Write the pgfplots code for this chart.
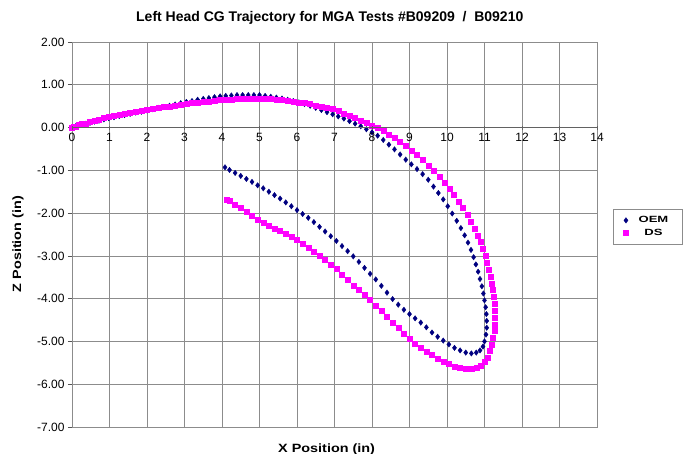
\documentclass[border=0pt]{standalone}
\usepackage{fontspec}
\setmainfont{Liberation Sans}
\usepackage{pgfplots}
\pgfplotsset{compat=1.18}
\definecolor{oem}{RGB}{0,0,128}
\definecolor{ds}{RGB}{255,0,255}
\definecolor{gridc}{RGB}{140,140,140}
\begin{document}
\begin{tikzpicture}[x=1pt,y=1pt]
\useasboundingbox (0,0) rectangle (683,454);
\begin{axis}[at={(72pt,27pt)}, anchor=south west,
  width=525pt, height=385pt, scale only axis,
  xmin=0, xmax=14, ymin=-7, ymax=2,
  xtick={0,...,14}, ytick={-7,...,2},
  grid=major, major grid style={gridc, line width=0.6pt},
  axis line style={gridc, line width=0.9pt},
  xmajorticks=false, xticklabels={},
  ytick pos=left, tick align=outside, major tick length=4pt,
  ytick style={gridc!60!black, line width=0.6pt},
  yticklabel style={font=\fontsize{12}{14}\selectfont, /pgf/number format/.cd, fixed, fixed zerofill, precision=2, assume math mode=true},
  title={Left Head CG Trajectory for MGA Tests \#B09209~~/~~B09210},
  title style={at={(axis description cs:0.491,1.047)}, anchor=center, font=\bfseries\fontsize{14}{16}\selectfont},
  xlabel={\scalebox{1.2}[1]{X Position (in)}},
  xlabel style={at={(axis description cs:0.485,-0.057)}, anchor=center, font=\bfseries\fontsize{12}{14}\selectfont},
  ylabel={\scalebox{1.2}[1]{Z Position (in)}},
  ylabel style={at={(axis description cs:-0.103,0.475)}, anchor=center, font=\bfseries\fontsize{12}{14}\selectfont},
  legend style={at={(axis description cs:1.031,0.5655)}, anchor=north west, draw=gridc, font=\bfseries\fontsize{9}{11}\selectfont, row sep=1pt, inner xsep=10pt, inner ysep=5pt},
  legend cell align=left,
]
\addplot[only marks, mark=diamond*, mark size=2.7pt, color=oem] coordinates {
(0.00,0.00)(0.05,0.01)(0.10,0.03)(0.18,0.05)(0.27,0.07)(0.37,0.09)(0.48,0.11)(0.60,0.14)(0.72,0.16)(0.85,0.19)
(0.98,0.22)(1.12,0.24)(1.26,0.27)(1.40,0.29)(1.55,0.32)(1.70,0.35)(1.85,0.37)(2.00,0.40)(2.15,0.43)(2.30,0.46)
(2.45,0.48)(2.60,0.51)(2.75,0.54)(2.90,0.57)(3.05,0.60)(3.20,0.62)(3.35,0.65)(3.50,0.67)(3.65,0.69)(3.80,0.71)
(3.95,0.73)(4.10,0.74)(4.25,0.75)(4.40,0.76)(4.55,0.76)(4.70,0.76)(4.85,0.76)(5.00,0.76)(5.15,0.74)(5.30,0.72)
(5.45,0.70)(5.60,0.68)(5.75,0.65)(5.90,0.62)(6.05,0.59)(6.20,0.55)(6.35,0.51)(6.50,0.46)(6.65,0.41)(6.80,0.36)
(6.95,0.31)(7.10,0.26)(7.25,0.21)(7.40,0.15)(7.55,0.09)(7.70,0.03)(7.85,-0.04)(8.00,-0.11)(8.15,-0.19)(8.30,-0.29)
(8.45,-0.40)(8.60,-0.51)(8.75,-0.63)(8.90,-0.75)(9.05,-0.86)(9.20,-0.97)(9.35,-1.09)(9.50,-1.22)(9.64,-1.38)(9.77,-1.53)
(9.90,-1.68)(10.02,-1.84)(10.14,-2.01)(10.26,-2.18)(10.37,-2.35)(10.47,-2.52)(10.56,-2.69)(10.64,-2.86)(10.71,-3.03)(10.77,-3.20)
(10.83,-3.37)(10.88,-3.54)(10.93,-3.71)(10.97,-3.88)(11.00,-4.04)(11.03,-4.20)(11.05,-4.36)(11.06,-4.52)(11.06,-4.68)(11.04,-4.84)
(11.00,-5.00)(10.96,-5.12)(10.88,-5.21)(10.78,-5.26)(10.65,-5.28)(10.50,-5.26)(10.35,-5.21)(10.20,-5.15)(10.05,-5.07)(9.90,-4.98)
(9.75,-4.89)(9.60,-4.79)(9.45,-4.67)(9.30,-4.56)(9.15,-4.46)(9.00,-4.36)(8.85,-4.26)(8.70,-4.14)(8.55,-4.01)(8.40,-3.86)
(8.25,-3.70)(8.10,-3.55)(7.95,-3.42)(7.80,-3.28)(7.65,-3.14)(7.50,-3.01)(7.35,-2.89)(7.20,-2.77)(7.05,-2.65)(6.90,-2.54)
(6.75,-2.43)(6.60,-2.32)(6.45,-2.21)(6.30,-2.11)(6.15,-2.02)(6.00,-1.93)(5.85,-1.84)(5.70,-1.75)(5.55,-1.66)(5.40,-1.58)
(5.25,-1.50)(5.10,-1.42)(4.95,-1.35)(4.80,-1.27)(4.65,-1.20)(4.50,-1.13)(4.35,-1.06)(4.20,-0.99)(4.08,-0.93)
};
\addlegendentry{\hspace*{6pt}\makebox[34pt]{\scalebox{1.45}[1]{OEM}}}
\addplot[only marks, mark=square*, mark size=2.5pt, color=ds] coordinates {
(0.00,0.00)(0.05,0.02)(0.10,0.03)(0.18,0.06)(0.27,0.08)(0.37,0.10)(0.48,0.13)(0.60,0.16)(0.72,0.19)(0.85,0.22)
(0.98,0.25)(1.12,0.27)(1.26,0.30)(1.40,0.33)(1.55,0.35)(1.70,0.37)(1.85,0.40)(2.00,0.42)(2.15,0.44)(2.30,0.46)
(2.45,0.48)(2.60,0.49)(2.75,0.51)(2.90,0.53)(3.05,0.55)(3.20,0.57)(3.35,0.59)(3.50,0.60)(3.65,0.61)(3.80,0.63)
(3.95,0.64)(4.10,0.65)(4.25,0.66)(4.40,0.67)(4.55,0.67)(4.70,0.68)(4.85,0.68)(5.00,0.68)(5.15,0.68)(5.30,0.67)
(5.45,0.66)(5.60,0.65)(5.75,0.63)(5.90,0.61)(6.05,0.59)(6.20,0.57)(6.35,0.55)(6.50,0.52)(6.65,0.49)(6.80,0.46)
(6.95,0.43)(7.10,0.39)(7.25,0.33)(7.40,0.27)(7.55,0.22)(7.70,0.17)(7.85,0.11)(8.00,0.05)(8.15,-0.01)(8.30,-0.08)
(8.45,-0.16)(8.60,-0.24)(8.75,-0.33)(8.90,-0.43)(9.05,-0.53)(9.20,-0.64)(9.35,-0.76)(9.50,-0.89)(9.65,-1.02)(9.80,-1.15)
(9.93,-1.29)(10.06,-1.43)(10.19,-1.58)(10.31,-1.73)(10.43,-1.88)(10.54,-2.04)(10.64,-2.20)(10.73,-2.36)(10.82,-2.52)(10.89,-2.68)
(10.96,-2.84)(11.02,-3.00)(11.07,-3.16)(11.12,-3.32)(11.16,-3.48)(11.20,-3.64)(11.23,-3.80)(11.25,-3.96)(11.27,-4.12)(11.28,-4.28)
(11.28,-4.44)(11.27,-4.60)(11.26,-4.76)(11.23,-4.92)(11.19,-5.07)(11.14,-5.22)(11.08,-5.37)(11.00,-5.48)(10.90,-5.56)(10.78,-5.61)
(10.65,-5.63)(10.50,-5.63)(10.35,-5.62)(10.20,-5.59)(10.05,-5.53)(9.90,-5.47)(9.75,-5.40)(9.60,-5.32)(9.45,-5.24)(9.30,-5.15)
(9.15,-5.05)(9.00,-4.94)(8.85,-4.82)(8.70,-4.69)(8.55,-4.56)(8.40,-4.43)(8.25,-4.29)(8.10,-4.16)(7.95,-4.03)(7.80,-3.91)
(7.65,-3.79)(7.50,-3.69)(7.35,-3.56)(7.20,-3.43)(7.05,-3.31)(6.90,-3.20)(6.75,-3.09)(6.60,-2.99)(6.45,-2.90)(6.30,-2.81)
(6.15,-2.72)(6.00,-2.63)(5.85,-2.56)(5.70,-2.49)(5.55,-2.42)(5.40,-2.36)(5.25,-2.29)(5.10,-2.22)(4.95,-2.15)(4.80,-2.06)
(4.65,-1.97)(4.50,-1.88)(4.35,-1.80)(4.20,-1.72)(4.12,-1.68)
};
\addlegendentry{\hspace*{6pt}\makebox[34pt]{\scalebox{1.45}[1]{DS}}}
\end{axis}
\begin{axis}[at={(72pt,27pt)}, anchor=south west,
  width=525pt, height=385pt, scale only axis,
  xmin=0, xmax=14, ymin=-7, ymax=2,
  axis x line=middle, axis y line=none,
  xtick={0,...,14}, ytick=\empty,
  hide obscured x ticks=false,
  x axis line style={-, gridc!70!black, line width=0.9pt},
  xtick style={gridc!70!black, line width=0.6pt},
  tick align=center, major tick length=4pt,
  xticklabel style={font=\fontsize{12}{14}\selectfont, /pgf/number format/assume math mode=true},
]
\end{axis}
\end{tikzpicture}
\end{document}
